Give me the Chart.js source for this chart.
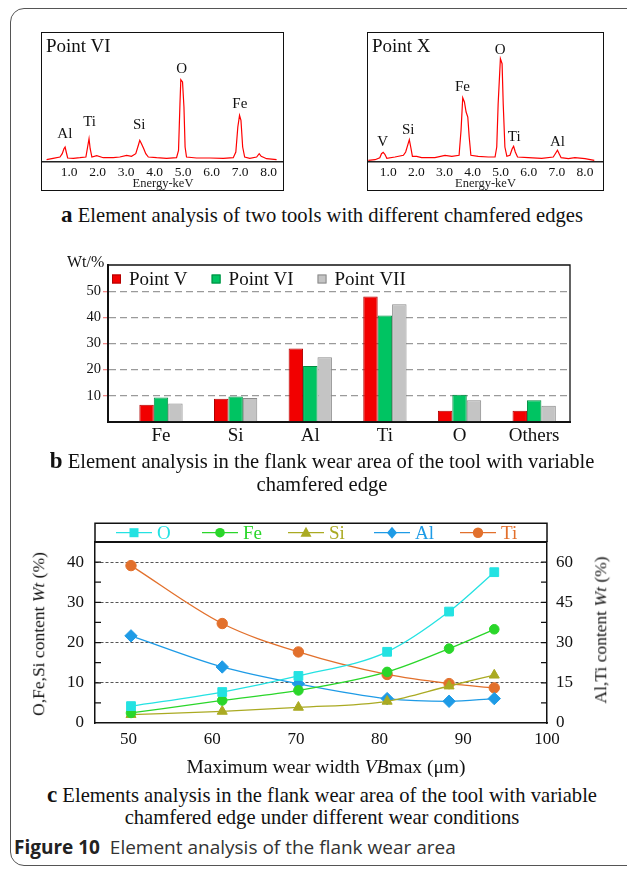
<!DOCTYPE html>
<html><head><meta charset="utf-8">
<script src="https://cdn.jsdelivr.net/npm/chart.js@4.4.1/dist/chart.umd.min.js"></script>
<style>
html,body{margin:0;padding:0;background:#fff;}
#page{position:relative;width:627px;height:869px;overflow:hidden;background:#fff;font-family:"Liberation Serif","Times New Roman",serif;color:#111;}
canvas{position:absolute;}
.frame{position:absolute;left:10px;top:8px;width:700px;height:858px;border:1.3px solid #555;border-radius:14px;box-sizing:border-box;}
.box{position:absolute;border:1.5px solid #111;box-sizing:border-box;pointer-events:none;}
.t{position:absolute;white-space:nowrap;line-height:1;}
.cap{position:absolute;left:0;width:644px;text-align:center;font-size:20.6px;line-height:23px;white-space:nowrap;}
.cap b{font-size:23px;}
.rot{position:absolute;white-space:nowrap;font-size:17.5px;line-height:1;transform:translate(-50%,-50%) rotate(-90deg);}
</style></head>
<body><div id="page">
<div class="frame"></div>

<canvas id="cVI" width="242" height="159" style="left:42px;top:32px"></canvas>
<div class="box" style="left:41px;top:32px;width:243px;height:159px"></div>
<div class="t" style="left:46px;top:36px;font-size:19px">Point VI</div>

<canvas id="cX" width="235" height="159" style="left:368px;top:32px"></canvas>
<div class="box" style="left:367px;top:32px;width:237px;height:159px"></div>
<div class="t" style="left:372px;top:36px;font-size:19px">Point X</div>

<div class="cap" style="top:203px"><b>a</b> Element analysis of two tools with different chamfered edges</div>

<canvas id="cB" width="520" height="200" style="left:60px;top:250px"></canvas>
<div class="t" style="left:67px;top:254px;font-size:16px">Wt/%</div>
<div class="cap" style="top:449px"><b>b</b> Element analysis in the flank wear area of the tool with variable<br>chamfered edge</div>

<canvas id="cC" width="617" height="265" style="left:10px;top:515px"></canvas>
<div class="rot" style="left:39px;top:634px">O,Fe,Si content <i>Wt</i> (%)</div>
<div class="rot" style="left:601px;top:630px">Al,Ti content <i>Wt</i> (%)</div>
<div class="t" style="left:326px;top:757px;font-size:19.5px;transform:translateX(-50%)">Maximum wear width <i>VB</i>max (μm)</div>
<div class="cap" style="top:784px;line-height:22px"><b>c</b> Elements analysis in the flank wear area of the tool with variable<br>chamfered edge under different wear conditions</div>
<div class="t" style="left:14px;top:838px;font-family:'Open Sans',sans-serif;font-size:19px;color:#333"><b style="color:#222">Figure 10</b>&nbsp; Element analysis of the flank wear area</div>
</div>
<script>
// ---------- DATA ----------
// Panel a: EDS spectra (energy keV, counts in arbitrary units)
const vi_keV = [0.21,0.44,0.68,0.76,0.82,0.86,0.90,0.95,1.15,1.38,1.59,1.65,1.70,1.74,1.80,1.97,2.20,2.55,2.78,3.02,3.19,3.34,3.43,3.48,3.54,3.62,3.69,3.78,4.07,4.42,4.77,4.84,4.89,4.92,4.98,5.03,5.07,5.12,5.47,5.94,6.41,6.76,6.85,6.92,6.98,7.03,7.09,7.16,7.34,7.58,7.67,7.74,7.93,8.28];
const vi_cnt = [2.3,3.7,5.0,8.3,13.3,15.0,10.0,4.0,3.7,4.3,5.0,15.0,23.3,13.3,5.0,6.3,4.3,4.3,5.0,6.7,5.7,8.3,16.7,21.7,18.3,13.3,8.3,5.0,4.3,3.7,4.3,11.7,58,82.3,80,55,15,5,4,4,3.7,4.3,10,35,46.7,41.7,15,5,3.7,5,8.3,5.7,3.3,2.3];
const vi_peakNames = ["Al","Ti","Si","O","Fe"];
const vi_peakKeV   = [0.85,1.72,3.46,4.95,6.99];
const vi_peakY     = [28.4,40,36.7,93.4,58.4];

const x_keV = [0.29,0.53,0.70,0.76,0.82,0.88,0.95,1.24,1.54,1.62,1.69,1.75,1.80,1.86,2.01,2.19,2.66,3.02,3.26,3.52,3.59,3.65,3.71,3.77,3.83,3.88,3.94,4.20,4.56,4.80,4.86,4.91,4.99,5.05,5.09,5.15,5.22,5.33,5.41,5.46,5.52,5.60,5.98,6.46,6.87,6.96,7.02,7.08,7.15,7.41,7.64,8.00,8.33];
const x_cnt = [1.7,2.3,4.3,8.3,9.7,7.7,3.7,5.0,6.7,10.0,16.7,22.3,15.0,5.7,5.7,4.3,4.3,6.7,5.7,6.7,31.7,64.3,60,50,45,25,6.7,5.7,5.0,5.0,15,58.3,103.3,98.3,58.3,15,5.7,6.7,13.3,15.7,10,5,4.3,3.7,5,9,11.7,8.3,4.3,3.3,4.3,3.3,1.7];
const x_peakNames = ["V","Si","Fe","O","Ti","Al"];
const x_peakKeV   = [0.80,1.71,3.64,4.98,5.48,7.02];
const x_peakY     = [20,31.7,75,111.7,25,20];

const specTicks = [1,2,3,4,5,6,7,8];

// Panel b: bar chart
const elements = ["Fe","Si","Al","Ti","O","Others"];
const pointV   = [6.6, 8.9, 28.1, 48.0, 4.3, 4.3];
const pointVI  = [9.4, 9.7, 21.4, 40.7, 10.4, 8.3];
const pointVII = [7.1, 9.2, 24.7, 45.0, 8.3, 6.2];
const barTicks = [10,20,30,40,50];

// Panel c: line chart
const vbmax = [50.3, 61.2, 70.3, 80.9, 88.3, 93.7];
const oWt  = [4.2, 7.7, 11.7, 17.7, 27.7, 37.5];
const feWt = [2.5, 5.6, 8.1, 12.7, 18.5, 23.3];
const siWt = [2.1, 2.9, 3.9, 5.4, 9.2, 11.9];
const alWt = [32.5, 20.9, 14.6, 9.1, 8.1, 9.1];
const tiWt = [58.7, 37.1, 26.5, 18.1, 14.7, 13.1];
const xTicksC = [50,60,70,80,90,100];
const yTicksL = [0,10,20,30,40];
const yTicksR = [0,15,30,45,60];

// ---------- CHARTS ----------
const SERIF = '"Liberation Serif", "Times New Roman", serif';
Chart.defaults.font.family = SERIF;
Chart.defaults.color = '#111';
Chart.defaults.animation = false;
Chart.defaults.plugins.tooltip.enabled = false;
Chart.defaults.plugins.legend.display = false;
const F = (size)=>({family:SERIF, size});

function pts(xs, ys){ return xs.map((v,i)=>({x:v,y:ys[i]})); }

const peakLabels = {
  id:'peakLabels',
  afterDatasetsDraw(chart, args, opts){
    const {ctx, scales:{x,y}} = chart;
    ctx.save();
    ctx.font = '15px ' + SERIF; ctx.fillStyle = '#111';
    ctx.textAlign = 'center'; ctx.textBaseline = 'middle';
    opts.names.forEach((n,i)=> ctx.fillText(n, x.getPixelForValue(opts.kev[i]), y.getPixelForValue(opts.yv[i])));
    ctx.restore();
  }
};

function spectrum(id, kev, cnt, xmin, xmax, names, pk, py){
  new Chart(document.getElementById(id), {
    type:'line',
    data:{datasets:[{data:pts(kev,cnt), borderColor:'#ff0000', borderWidth:1.2, pointRadius:0, tension:0, fill:false}]},
    options:{
      responsive:false, devicePixelRatio:1,
      layout:{padding:0},
      scales:{
        x:{type:'linear', min:xmin, max:xmax,
           afterBuildTicks:(s)=>{ s.ticks = specTicks.map(v=>({value:v})); },
           afterFit:(s)=>{ s.height = 29; },
           ticks:{callback:(v)=>Number(v).toFixed(1), font:F(13.5), padding:2, maxRotation:0, autoSkip:false, color:'#111'},
           grid:{display:false, drawTicks:false, tickLength:0}, border:{display:true, color:'#222', width:1.5},
           title:{display:true, text:'Energy-keV', font:F(12.5), padding:{top:0,bottom:0}, color:'#222'}},
        y:{display:false, min:0, max:130}
      },
      plugins:{peakLabels:{names, kev:pk, yv:py}}
    },
    plugins:[peakLabels]
  });
}
spectrum('cVI', vi_keV, vi_cnt, 0.05, 8.54, vi_peakNames, vi_peakKeV, vi_peakY);
spectrum('cX', x_keV, x_cnt, 0.28, 8.64, x_peakNames, x_peakKeV, x_peakY);

// Bar chart
const barFrame = {
  id:'barFrame',
  afterDraw(chart){
    const {ctx, chartArea:a} = chart;
    ctx.save(); ctx.strokeStyle='#111'; ctx.lineWidth=1.3;
    ctx.beginPath(); ctx.moveTo(a.left, a.top); ctx.lineTo(a.right, a.top); ctx.lineTo(a.right, a.bottom); ctx.stroke();
    // legend
    ctx.font = '19px ' + SERIF; ctx.textBaseline='middle';
    let x = a.left + 4; const y = a.top + 14;
    chart.data.datasets.forEach(ds=>{
      ctx.fillStyle = ds.backgroundColor; ctx.fillRect(x, y-4.5, 9, 9);
      ctx.strokeStyle = ds.borderColor; ctx.lineWidth=1; ctx.strokeRect(x+0.5, y-4, 8, 8);
      ctx.fillStyle = '#111'; ctx.fillText(ds.label, x+17, y+1);
      x += 17 + ctx.measureText(ds.label).width + 24;
    });
    ctx.restore();
  }
};
const hideEnds = (c)=> (c.tick && barTicks.includes(c.tick.value)) ? '#9a9a9a' : 'rgba(0,0,0,0)';
const tickEnds = (c)=> (c.tick && barTicks.includes(c.tick.value)) ? '#f08a8a' : 'rgba(0,0,0,0)';
new Chart(document.getElementById('cB'), {
  type:'bar',
  data:{datasets:[
    {label:'Point V',   data:pts([1,2,3,4,5,6], pointV),   backgroundColor:'#f20000', borderColor:'#b00000', borderWidth:1},
    {label:'Point VI',  data:pts([1,2,3,4,5,6], pointVI),  backgroundColor:'#00c462', borderColor:'#008a40', borderWidth:1},
    {label:'Point VII', data:pts([1,2,3,4,5,6], pointVII), backgroundColor:'#c4c4c4', borderColor:'#8a8a8a', borderWidth:1}
  ]},
  options:{
    responsive:false, devicePixelRatio:1,
    layout:{padding:{top:15,right:10,left:0,bottom:0}},
    datasets:{bar:{categoryPercentage:0.58, barPercentage:1}},
    scales:{
      x:{type:'linear', min:0.29, max:6.48, offset:false,
         afterBuildTicks:(s)=>{ s.ticks = elements.map((e,i)=>({value:i+1})); },
         afterFit:(s)=>{ s.height = 28; },
         ticks:{callback:(v)=>elements[Math.round(v)-1], font:F(19), padding:3, autoSkip:false, maxRotation:0, color:'#111'},
         grid:{display:false, drawTicks:false}, border:{display:true, color:'#111', width:2}},
      y:{min:0, max:60,
         afterBuildTicks:(s)=>{ s.ticks = [0].concat(barTicks).concat([60]).map(v=>({value:v})); },
         afterFit:(s)=>{ s.width = 48; },
         ticks:{callback:(v)=> barTicks.includes(v) ? String(v) : '', font:F(14.5), padding:2, color:'#111'},
         grid:{color:hideEnds, tickColor:tickEnds, tickLength:5, lineWidth:1.3, tickBorderDash:[]},
         border:{display:true, color:'#111', width:2, dash:[7,4]}}
    }
  },
  plugins:[barFrame]
});

// Line chart
function drawMarker(ctx, style, x, y, r, color){
  ctx.save(); ctx.fillStyle=color; ctx.strokeStyle=color; ctx.beginPath();
  if(style==='rect'){ ctx.rect(x-r, y-r, 2*r, 2*r); }
  else if(style==='circle'){ ctx.arc(x,y,r,0,Math.PI*2); }
  else if(style==='triangle'){ ctx.moveTo(x, y-r*1.1); ctx.lineTo(x+r, y+r*0.75); ctx.lineTo(x-r, y+r*0.75); ctx.closePath(); }
  else if(style==='rectRot'){ ctx.moveTo(x, y-r*1.2); ctx.lineTo(x+r, y); ctx.lineTo(x, y+r*1.2); ctx.lineTo(x-r, y); ctx.closePath(); }
  ctx.fill(); ctx.restore();
}
const lineFrame = {
  id:'lineFrame',
  afterDraw(chart){
    const {ctx, chartArea:a, scales} = chart;
    ctx.save();
    ctx.strokeStyle='#111'; ctx.lineWidth=1.5;
    const top = a.top - 18.7;
    ctx.beginPath(); ctx.moveTo(a.left, a.top); ctx.lineTo(a.left, top); ctx.lineTo(a.right, top); ctx.lineTo(a.right, a.top); ctx.stroke();
    ctx.lineWidth=2; ctx.beginPath(); ctx.moveTo(a.left, a.top); ctx.lineTo(a.right, a.top); ctx.stroke();
    // inward ticks every 5 units on left axis
    ctx.lineWidth=1.2;
    for(let v=5; v<45; v+=5){
      const py = scales.y.getPixelForValue(v);
      ctx.beginPath(); ctx.moveTo(a.left, py); ctx.lineTo(a.left+6, py); ctx.moveTo(a.right-6, py); ctx.lineTo(a.right, py); ctx.stroke();
    }
    // legend
    ctx.font = '19px ' + SERIF; ctx.textBaseline='middle';
    const ly = a.top - 9.3;
    chart.data.datasets.forEach((ds,i)=>{
      const x0 = a.left + 21 + i*86;
      ctx.strokeStyle = ds.borderColor; ctx.lineWidth=1.3;
      ctx.beginPath(); ctx.moveTo(x0, ly); ctx.lineTo(x0+36, ly); ctx.stroke();
      drawMarker(ctx, ds.pointStyle, x0+18, ly, ds.mk, ds.pointBackgroundColor);
      ctx.fillStyle = ds.borderColor; ctx.fillText(ds.label, x0+41, ly+1);
    });
    ctx.restore();
  }
};
function ser(label, ys, color, style, radius, mk, axis){
  return {label, data:pts(vbmax, ys), borderColor:color, backgroundColor:color, pointBackgroundColor:color,
          pointBorderColor:color, pointStyle:style, pointRadius:radius, borderWidth:1.3, pointBorderWidth:1,
          cubicInterpolationMode:'monotone', yAxisID:axis, mk};
}
new Chart(document.getElementById('cC'), {
  type:'line',
  data:{datasets:[
    ser('O',  oWt,  '#24e2e2', 'rect', 6.2, 4.5, 'y'),
    ser('Fe', feWt, '#2ad62a', 'circle', 4.8, 4.8, 'y'),
    ser('Si', siWt, '#aaaa22', 'triangle', 5.8, 5.5, 'y'),
    ser('Al', alWt, '#1e9be6', 'rectRot', 6.2, 5, 'y1'),
    ser('Ti', tiWt, '#e2702c', 'circle', 5.2, 5.2, 'y1')
  ]},
  options:{
    responsive:false, devicePixelRatio:1,
    layout:{padding:{top:27,left:0,right:0,bottom:0}},
    scales:{
      x:{type:'linear', min:46, max:100,
         afterBuildTicks:(s)=>{ s.ticks = xTicksC.map(v=>({value:v})); },
         afterFit:(s)=>{ s.height = 57; },
         ticks:{font:F(17), padding:6, autoSkip:false, maxRotation:0, color:'#111'},
         grid:{display:false, drawTicks:false}, border:{display:true, color:'#111', width:1.5}},
      y:{position:'left', min:0, max:45,
         afterBuildTicks:(s)=>{ s.ticks = yTicksL.map(v=>({value:v})); },
         afterFit:(s)=>{ s.width = 85; },
         ticks:{font:F(17), padding:11, color:'#111'},
         grid:{drawTicks:false, color:(c)=> c.tick && c.tick.value>0 ? '#555' : 'rgba(0,0,0,0)', lineWidth:1},
         border:{display:true, color:'#111', width:1.5, dash:[3,2]}},
      y1:{position:'right', min:0, max:67.5,
         afterBuildTicks:(s)=>{ s.ticks = yTicksR.map(v=>({value:v})); },
         afterFit:(s)=>{ s.width = 80; },
         ticks:{font:F(17), padding:9, color:'#111'},
         grid:{drawTicks:false, drawOnChartArea:false},
         border:{display:true, color:'#111', width:1.5}}
    }
  },
  plugins:[lineFrame]
});
</script>
</body></html>
